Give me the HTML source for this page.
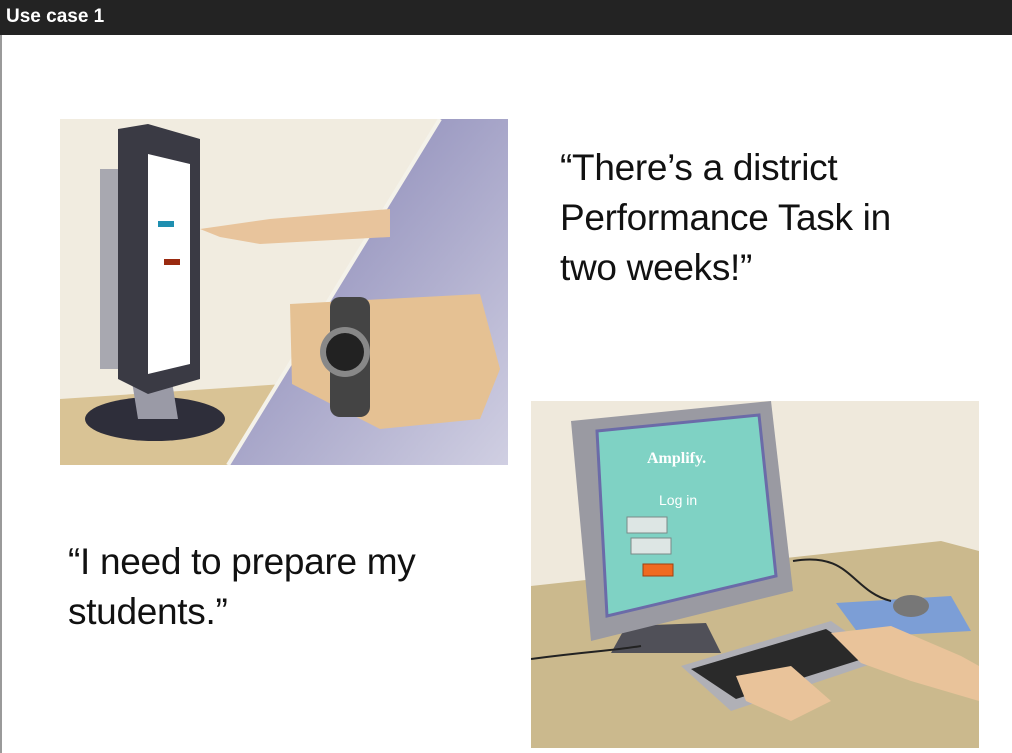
<!DOCTYPE html>
<html><head><meta charset="utf-8">
<style>
html,body{margin:0;padding:0;}
body{width:1012px;height:753px;background:#fff;position:relative;overflow:hidden;font-family:"Liberation Sans",sans-serif;}
#titlebar{position:absolute;left:0;top:0;width:1012px;height:35px;background:#232323;}
#title{position:absolute;left:6px;top:6px;color:#fff;font-size:19px;font-weight:bold;}
#lborder{position:absolute;left:0;top:35px;width:2px;height:718px;background:#9a9a9a;}
.quote{position:absolute;color:#111;font-size:37px;line-height:50px;letter-spacing:-0.3px;}
svg{position:absolute;}
</style></head>
<body>
<div id="titlebar"><div id="title">Use case 1</div></div>
<div id="lborder"></div>

<svg style="left:60px;top:119px" width="448" height="346" viewBox="0 0 448 346">
 <defs><linearGradient id="pg" x1="0" y1="0" x2="1" y2="1"><stop offset="0" stop-color="#7f7db0"/><stop offset="1" stop-color="#d0cfe2"/></linearGradient></defs>
 <rect width="448" height="346" fill="#f1ece0"/>
 <polygon points="0,280 448,250 448,346 0,346" fill="#d9c395"/>
 <polygon points="380,0 448,0 448,346 168,346" fill="url(#pg)"/>
 <line x1="380" y1="0" x2="168" y2="346" stroke="#f4f2ea" stroke-width="4"/>
 <ellipse cx="95" cy="300" rx="70" ry="22" fill="#2e2e3a"/>
 <polygon points="70,250 110,250 118,300 78,300" fill="#9a9aa6"/>
 <polygon points="40,50 58,50 58,250 40,250" fill="#a8a8b0"/>
 <polygon points="58,10 88,5 140,20 140,260 88,275 58,260" fill="#3a3a44"/>
 <polygon points="88,35 130,45 130,245 88,255" fill="#fff"/>
 <rect x="98" y="102" width="16" height="6" fill="#1f8fb0"/>
 <rect x="104" y="140" width="16" height="6" fill="#9a2a10"/>
 <polygon points="140,110 210,100 330,90 330,118 200,125 160,118" fill="#e8c49c"/>
 <polygon points="230,185 420,175 440,250 420,300 320,310 232,265" fill="#e5c193"/>
 <rect x="270" y="178" width="40" height="120" rx="10" fill="#444"/>
 <circle cx="285" cy="233" r="25" fill="#888"/>
 <circle cx="285" cy="233" r="19" fill="#222"/>
</svg>

<div class="quote" style="left:560px;top:143px">“There’s a district<br>Performance Task in<br>two weeks!”</div>
<div class="quote" style="left:68px;top:537px">“I need to prepare my<br>students.”</div>

<svg style="left:531px;top:401px" width="448" height="347" viewBox="0 0 448 347">
 <rect width="448" height="347" fill="#efe9dc"/>
 <polygon points="0,185 410,140 448,150 448,347 0,347" fill="#cbb98d"/>
 <polygon points="95,225 175,222 190,252 80,252" fill="#505058"/>
 <polygon points="40,20 240,0 262,190 60,240" fill="#9a9aa2"/>
 <polygon points="66,30 228,14 245,175 76,215" fill="#7fd2c4" stroke="#6b6ba8" stroke-width="3"/>
 <text x="116" y="62" fill="#fff" font-family="Liberation Serif,serif" font-weight="bold" font-size="16">Amplify.</text>
 <text x="128" y="104" fill="#fff" font-family="Liberation Sans,sans-serif" font-size="14">Log in</text>
 <rect x="96" y="116" width="40" height="16" fill="#dde6e4" stroke="#7a8a88"/>
 <rect x="100" y="137" width="40" height="16" fill="#dde6e4" stroke="#7a8a88"/>
 <rect x="112" y="163" width="30" height="12" fill="#f06a20" stroke="#a04010"/>
 <polygon points="305,202 420,195 440,230 330,236" fill="#7c9ed6"/>
 <ellipse cx="380" cy="205" rx="18" ry="11" fill="#777"/>
 <polygon points="150,265 300,220 355,258 200,310" fill="#b0b0b6"/>
 <polygon points="160,268 295,228 338,256 205,298" fill="#2a2a2a"/>
 <path d="M0,258 C60,250 80,250 110,245" stroke="#222" stroke-width="2" fill="none"/>
 <path d="M262,160 C320,150 320,190 360,200" stroke="#222" stroke-width="2" fill="none"/>
 <polygon points="205,275 260,265 300,300 260,320 215,300" fill="#e9c39a"/>
 <polygon points="300,232 360,225 430,255 448,265 448,300 380,280 330,262" fill="#e9c39a"/>
</svg>
</body></html>
